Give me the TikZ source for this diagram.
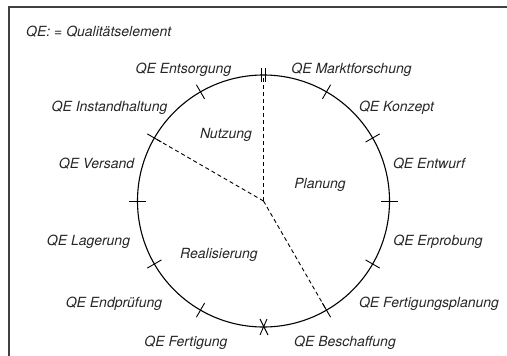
\documentclass[tikz,border=0pt]{standalone}
\usepackage{fontspec}
\setmainfont{TeX Gyre Heros}
\usetikzlibrary{calc}
\begin{document}
\begin{tikzpicture}[x=1pt,y=-1pt,
  lbl/.style={font=\fontsize{14}{16}\selectfont\itshape, inner sep=0pt, anchor=base, text=black!85},
  ringline/.style={line width=1.1pt},
  tickline/.style={line width=0.9pt},
  sector/.style={line width=0.9pt, dash pattern=on 4pt off 3pt},
  frameline/.style={line width=1.3pt, black!75}]
\useasboundingbox (0,0) rectangle (507,356);
\draw[frameline] (9,362) -- (9,7) -- (512,7);
\coordinate (C) at (263.5,201);
\node[circle, draw, ringline, minimum size=252pt, inner sep=0pt, outer sep=0pt] (ring) at (C) {};
% ticks
\foreach \a in {0,30,60,120,150,180,210,240,300,330}
  \draw[tickline] ($(C)!0.935!(ring.\a)$) -- ($(C)!1.065!(ring.\a)$);
\draw[tickline] ([xshift=-2.2pt]ring.90) ++(0,-7) -- ++(0,14);
\draw[tickline] ([xshift=2.2pt]ring.90) ++(0,-7) -- ++(0,14);
\draw[tickline] (ring.270) ++(-3.5,-8) -- ++(8,16);
\draw[tickline] (ring.270) ++(3.5,-8) -- ++(-7,16);
% sectors
\draw[sector] (C) -- (ring.90);
\draw[sector] (C) -- (ring.150);
\draw[sector] (C) -- (ring.300);
% legend
\node[lbl, anchor=base west] (legend) at (26,36) {QE: = Qualitätselement};
% labels
\node[lbl] (l1) at (351.5,73) {QE Marktforschung};
\node[lbl] (l2) at (396.5,111) {QE Konzept};
\node[lbl] (l3) at (429,168) {QE Entwurf};
\node[lbl] (l4) at (438,245) {QE Erprobung};
\node[lbl] (l5) at (429,307) {QE Fertigungsplanung};
\node[lbl] (l6) at (345,346) {QE Beschaffung};
\node[lbl] (l7) at (186,346) {QE Fertigung};
\node[lbl] (l8) at (114,307) {QE Endprüfung};
\node[lbl] (l9) at (88.5,245) {QE Lagerung};
\node[lbl] (l10) at (96.5,168) {QE Versand};
\node[lbl] (l11) at (109.5,111) {QE Instandhaltung};
\node[lbl] (l12) at (183.5,73) {QE Entsorgung};
% phases
\node[lbl] (nutzung) at (226,138) {Nutzung};
\node[lbl] (planung) at (320,188) {Planung};
\node[lbl] (real) at (219,258) {Realisierung};
\end{tikzpicture}
\end{document}
